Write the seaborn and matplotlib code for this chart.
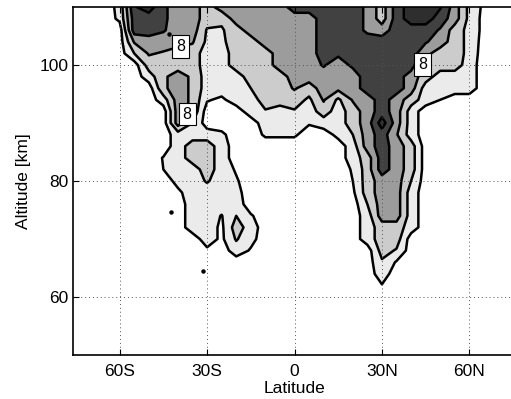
import numpy as np
import matplotlib
matplotlib.use("Agg")
import matplotlib.pyplot as plt
import seaborn as sns

# ---- data ----
lat_deg = [-80, -75, -70, -65, -60, -55, -50, -45, -40, -35, -30, -25, -20, -15, -10, -5,
           0, 5, 10, 15, 20, 25, 30, 35, 40, 45, 50, 55, 60, 65, 70, 75, 80]
alt_km = [110, 108, 106, 104, 102, 100, 98, 96, 94, 92, 90, 88, 86, 84, 82, 80,
          78, 76, 74, 72, 70, 68, 66, 64, 62, 60, 58, 56, 54, 52, 50]

# contour class read per grid point (0 = white ... 5 = darkest)
r110 = [0,0,0,0,0.8,4.4,5,3.7,3,3,2,3,3,3,3,3,4,4,4,4,4,3.3,2,4,5,5,4.6,3,1.2,0.3,0,0,0]
r108 = [0,0,0,0,0.7,4,4,3.7,3,3,2,1.7,3,3,3,3,3,3,4,4,4,3.3,2,4,5,5,4,3,1.2,0.2,0,0,0]
r106 = [0,0,0,0,0,4,4,3.6,3,3,1.4,1.4,2,3,3,3,3,3,4,4,4,3.3,3,4,4,4,3.4,2,1.2,0.2,0,0,0]
r104 = [0,0,0,0,0,2.6,3,3,3,2.6,1.3,1.3,2,2,3,3,3,3,4,4,4,4,4,4,4,3.6,3,2,1.2,0.1,0,0,0]
r102 = [0,0,0,0,0,1.5,2.6,2.4,1.9,2,1,1,2,2,2,3,3,3,4,3.7,4,4,4,4,4,2.8,2,2,1.2,0,0,0,0]
r100 = [0,0,0,0,0,0,2,2,2,2,1,1,2,2,2,3,3,3,3.6,3,3.7,4,4,4,4,2,2,2,1,0,0,0,0]
r98 = [0,0,0,0,0,0,1,2.3,3,2.3,1,1,1,2,2,2,3,3,3,3,3,4,4,4,3,2,1,1,1,0,0,0,0]
r96 = [0,0,0,0,0,0,0,2.3,3,2.3,1,1,1,1.5,2,2,2.6,2,3,2.8,3,4,4,4,3,1,1,1,1,0,0,0,0]
r94 = [0,0,0,0,0,0,0,1,3,2.3,0.6,0.3,1,1,2,2,2,1.3,2.6,1.3,2.6,3,4,3,2,1,0.5,0,0,0,0,0,0]
r92 = [0,0,0,0,0,0,0,0,3,2.3,0,0,0,1,1.4,1,1.4,1,2,1,2,3,4,3,1,0,0,0,0,0,0,0,0]
r90 = [0,0,0,0,0,0,0,0,3,1.5,0,0,0,0,1,1,1,0.6,1,1,2,3,5,3,1,0,0,0,0,0,0,0,0]
r88 = [0,0,0,0,0,0,0,0,1,1,1,0.7,0,0,0.65,0.65,0.65,0,0,0.8,1.5,3,4,2.6,1,0,0,0,0,0,0,0,0]
r86 = [0,0,0,0,0,0,0,0,1,2,2,1,0,0,0,0,0,0,0,0,1,3,4,3,2,0,0,0,0,0,0,0,0]
r84 = [0,0,0,0,0,0,0,0.55,1,2,2,1,0,0,0,0,0,0,0,0,1,2,4,3,2,0,0,0,0,0,0,0,0]
r82 = [0,0,0,0,0,0,0,0.5,1,1,2,1,0.4,0,0,0,0,0,0,0,0.6,2,4,3,2,0,0,0,0,0,0,0,0]
r80 = [0,0,0,0,0,0,0,0,0.8,1,1.6,1,0.6,0,0,0,0,0,0,0,0.5,2,3,3,1.5,0,0,0,0,0,0,0,0]
r78 = [0,0,0,0,0,0,0,0,0.3,1,1,1,0.8,0,0,0,0,0,0,0,0.3,2,3,3,1,0,0,0,0,0,0,0,0]
r76 = [0,0,0,0,0,0,0,0,0,1,1,1,1,0,0,0,0,0,0,0,0,1.5,3,3,1,0,0,0,0,0,0,0,0]
r74 = [0,0,0,0,0,0,0,0,0,1,1,0.45,1.5,0.6,0,0,0,0,0,0,0,1,3,3,1,0,0,0,0,0,0,0,0]
r72 = [0,0,0,0,0,0,0,0,0,1,1,0.3,2,1,0,0,0,0,0,0,0,1,2,2,1,0,0,0,0,0,0,0,0]
r70 = [0,0,0,0,0,0,0,0,0,0,1,0.3,1.6,0.8,0,0,0,0,0,0,0,1,2,2,0,0,0,0,0,0,0,0,0]
r68 = [0,0,0,0,0,0,0,0,0,0,0.3,0,1,0.4,0,0,0,0,0,0,0,0,1.9,1.4,0,0,0,0,0,0,0,0,0]
r66 = [0,0,0,0,0,0,0,0,0,0,0,0,0,0,0,0,0,0,0,0,0,0,1.35,0.4,0,0,0,0,0,0,0,0,0]
r64 = [0,0,0,0,0,0,0,0,0,0,0,0,0,0,0,0,0,0,0,0,0,0,1,0,0,0,0,0,0,0,0,0,0]
r62 = [0,0,0,0,0,0,0,0,0,0,0,0,0,0,0,0,0,0,0,0,0,0,0.45,0,0,0,0,0,0,0,0,0,0]
r60 = [0,0,0,0,0,0,0,0,0,0,0,0,0,0,0,0,0,0,0,0,0,0,0,0,0,0,0,0,0,0,0,0,0]
r58 = r60
r56 = r60
r54 = r60
r52 = r60
r50 = r60

contour_levels = [0.5, 1.5, 2.5, 3.5, 4.5]
fill_colors = ["#ffffff", "#ebebeb", "#cccccc", "#9c9c9c", "#414141", "#2e2e2e"]
label_level = 2.5
label_text = "8"
label_spots = [(-39.5, 103.8), (-38.0, 91.8), (45.5, 99.8)]

spot_lat = [-43.2, -42.5, -31.5]
spot_alt = [105.3, 74.6, 64.4]

xtick_vals = [-60, -30, 0, 30, 60]
xtick_labels = ["60S", "30S", "0", "30N", "60N"]
ytick_vals = [60, 80, 100]

# ---- figure ----
sns.set_style("ticks")
plt.rcParams["font.family"] = ["Liberation Sans", "DejaVu Sans"]
plt.rcParams["text.color"] = "black"
plt.rcParams["axes.labelcolor"] = "black"
plt.rcParams["xtick.color"] = "black"
plt.rcParams["ytick.color"] = "black"

Z = np.array([r110, r108, r106, r104, r102, r100, r98, r96, r94, r92, r90, r88, r86, r84,
              r82, r80, r78, r76, r74, r72, r70, r68, r66, r64, r62, r60, r58, r56, r54,
              r52, r50], dtype=float)
LAT, ALT = np.meshgrid(lat_deg, alt_km)

fig = plt.figure(figsize=(5.11, 3.99), dpi=100)
ax = fig.add_axes([73 / 511, 1 - 355 / 399, 443 / 511, 348 / 399])

bounds = [-10] + contour_levels + [10]
ax.contourf(LAT, ALT, Z, levels=bounds, colors=fill_colors, zorder=1)
other_levels = [lv for lv in contour_levels if lv != label_level]
ax.contour(LAT, ALT, Z, levels=other_levels, colors="black", linewidths=1.8, zorder=2)
cs8 = ax.contour(LAT, ALT, Z, levels=[label_level], colors="black", linewidths=1.8,
                 zorder=2)
ax.plot(spot_lat, spot_alt, linestyle="none", marker="o", markersize=2.2,
        color="black", zorder=3)

texts = cs8.clabel(manual=label_spots, inline=False,
                   fmt={label_level: label_text}, fontsize=11.5)
for t in texts:
    t.set_rotation(0)
    t.set_color("black")
    t.set_bbox(dict(boxstyle="square,pad=0.25", facecolor="white",
                    edgecolor="black", linewidth=0.8))
    t.set_zorder(5)

ax.set_xlim(-76, 76)
ax.set_ylim(50, 110)
ax.set_xticks(xtick_vals)
ax.set_xticklabels(xtick_labels)
ax.set_yticks(ytick_vals)
ax.set_xlabel("Latitude", fontsize=12.5, labelpad=1.5)
ax.set_ylabel("Altitude [km]", fontsize=12.5, labelpad=6.5)
ax.tick_params(direction="in", length=4, width=0.8, labelsize=12.5, top=True,
               right=False, color="black")
ax.tick_params(axis="x", pad=6.5)
ax.tick_params(axis="y", pad=3)
ax.set_axisbelow(False)
ax.grid(True, linestyle=(0, (1, 3)), color="#555555", linewidth=0.7)
for s in ax.spines.values():
    s.set_linewidth(1.2)
    s.set_color("black")
ax.spines["right"].set_visible(False)

fig.savefig("out.png", dpi=100)
